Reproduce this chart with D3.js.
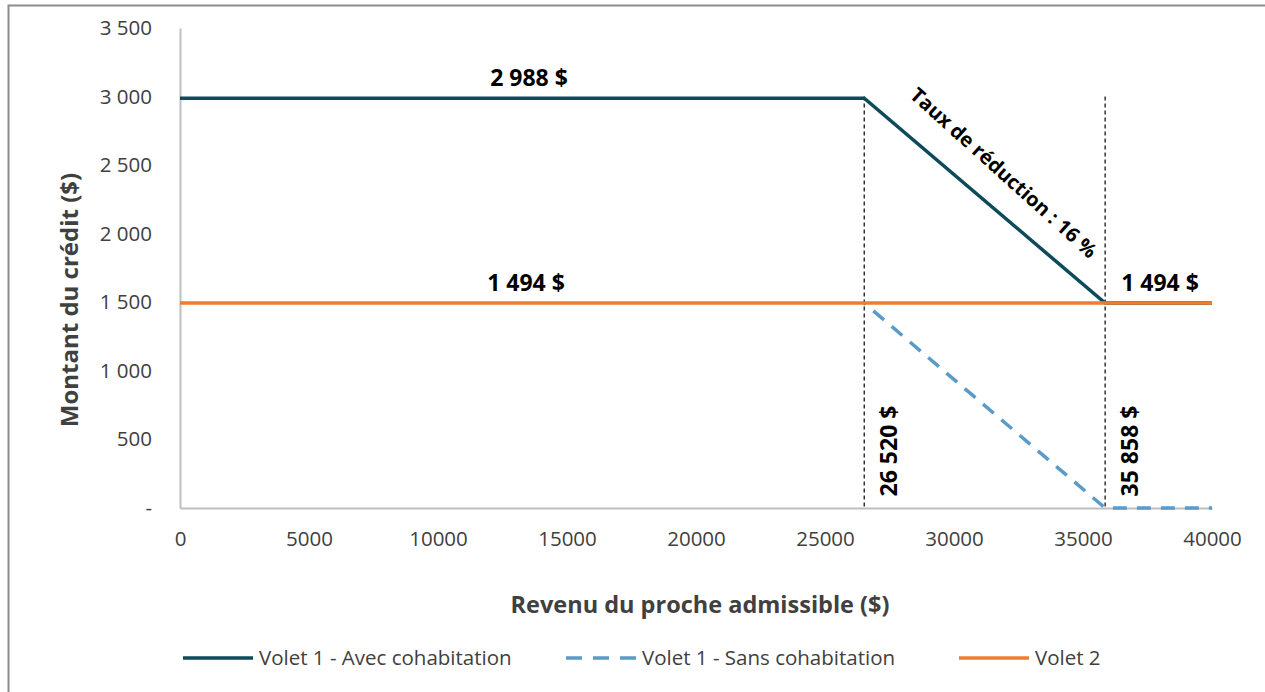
<!DOCTYPE html>
<html>
<head>
<meta charset="utf-8">
<script src="https://cdn.jsdelivr.net/npm/d3@7"></script>
<style>
  body { margin: 0; background: #fff; }
  svg { font-family: "Open Sans", sans-serif; }
</style>
</head>
<body>
<div class="chart"></div>
<script>
// data
var avecX = [0, 26520, 35858, 40000];
var avecY = [2988, 2988, 1494, 1494];
var sansX = [26520, 35858, 40000];
var sansY = [1494, 0, 0];
var volet2X = [0, 40000];
var volet2Y = [1494, 1494];
var seuils = [26520, 35858];
var xTicks = [0, 5000, 10000, 15000, 20000, 25000, 30000, 35000, 40000];
var yTicks = [0, 500, 1000, 1500, 2000, 2500, 3000, 3500];
var legendNames = ["Volet 1 - Avec cohabitation", "Volet 1 - Sans cohabitation", "Volet 2"];

var W = 1265, H = 692;
var svg = d3.select('.chart').append('svg')
  .attr('width', W)
  .attr('height', H);

// outer frame (only left & top show in the picture)
svg.append('rect')
  .attr('x', 8.5).attr('y', 5.5)
  .attr('width', W + 20).attr('height', H + 20)
  .attr('fill', 'none').attr('stroke', '#8c8c8c').attr('stroke-width', 2);

var x = d3.scaleLinear().domain([0, 40000]).range([180, 1212]);
var y = d3.scaleLinear().domain([0, 3500]).range([508, 28]);

var spaced = function(v) { return d3.format(',')(v).replace(/,/g, '\u00a0'); };
var fmt = function(v) { return v === 0 ? '-' : spaced(v); };

// axes
var yAxis = svg.append('g').attr('transform', 'translate(180,0)')
  .call(d3.axisLeft(y).tickValues(yTicks).tickFormat(fmt).tickSize(0).tickPadding(28));
var xAxis = svg.append('g').attr('transform', 'translate(0,508)')
  .call(d3.axisBottom(x).tickValues(xTicks).tickFormat(d3.format('d')).tickSize(0).tickPadding(23));
[yAxis, xAxis].forEach(function(a) {
  a.select('.domain').attr('stroke', '#bfbfbf').attr('stroke-width', 2);
  a.selectAll('text').attr('fill', '#404040').style('font-size', '20.5px').style('font-family', '"Open Sans", sans-serif');
});

// threshold lines
svg.selectAll('.seuil').data(seuils).enter().append('line')
  .attr('x1', function(d) { return x(d); }).attr('x2', function(d) { return x(d); })
  .attr('y1', y(3000)).attr('y2', y(0))
  .attr('stroke', '#000').attr('stroke-width', 1.2).attr('stroke-dasharray', '4,3');

var line = d3.line().x(function(d) { return x(d[0]); }).y(function(d) { return y(d[1]); });

svg.append('path').datum(d3.zip(avecX, avecY)).attr('d', line)
  .attr('fill', 'none').attr('stroke', '#0d4a5a').attr('stroke-width', 3.5);
svg.append('path').datum(d3.zip(sansX, sansY)).attr('d', line)
  .attr('fill', 'none').attr('stroke', '#5b9bc8').attr('stroke-width', 3.5)
  .attr('stroke-dasharray', '14,10').attr('stroke-dashoffset', -12);
svg.append('path').datum(d3.zip(volet2X, volet2Y)).attr('d', line)
  .attr('fill', 'none').attr('stroke', '#ed7d31').attr('stroke-width', 3.5);

// value labels
var lab = svg.append('g').style('font-weight', 'bold').style('font-size', '23px').attr('fill', '#000');
lab.append('text').attr('x', 529).attr('y', y(2988) - 12).attr('text-anchor', 'middle').text(spaced(2988) + ' $');
lab.append('text').attr('x', 526).attr('y', y(1494) - 12).attr('text-anchor', 'middle').text(spaced(1494) + ' $');
lab.append('text').attr('x', 1160).attr('y', y(1494) - 12).attr('text-anchor', 'middle').text(spaced(1494) + ' $');
seuils.forEach(function(s) {
  lab.append('text')
    .attr('transform', 'translate(' + (x(s) + 33) + ',451) rotate(-90)')
    .attr('text-anchor', 'middle').text(spaced(s) + ' $');
});
lab.append('text')
  .attr('transform', 'translate(999,178) rotate(42)')
  .attr('text-anchor', 'middle').style('font-size', '20px').text('Taux de réduction : 16 %');

// axis titles
svg.append('text').attr('transform', 'translate(78,300) rotate(-90)')
  .attr('text-anchor', 'middle').style('font-weight', 'bold').style('font-size', '24px')
  .attr('fill', '#404040').text('Montant du crédit ($)');
svg.append('text').attr('x', 700).attr('y', 613)
  .attr('text-anchor', 'middle').style('font-weight', 'bold').style('font-size', '23.5px')
  .attr('fill', '#404040').text('Revenu du proche admissible ($)');

// legend
var legX = [183, 566, 959];
var legColors = ['#0d4a5a', '#5b9bc8', '#ed7d31'];
var leg = svg.selectAll('.leg').data(legendNames).enter().append('g')
  .attr('transform', function(d, i) { return 'translate(' + legX[i] + ',658)'; });
leg.append('line').attr('x1', 0).attr('x2', 70).attr('y1', 0).attr('y2', 0)
  .attr('stroke', function(d, i) { return legColors[i]; }).attr('stroke-width', 3.5)
  .attr('stroke-dasharray', function(d, i) { return i === 1 ? '16,11' : null; });
leg.append('text').attr('x', 76).attr('y', 7).style('font-size', '20.5px').attr('fill', '#404040')
  .text(function(d) { return d; });
</script>
</body>
</html>
